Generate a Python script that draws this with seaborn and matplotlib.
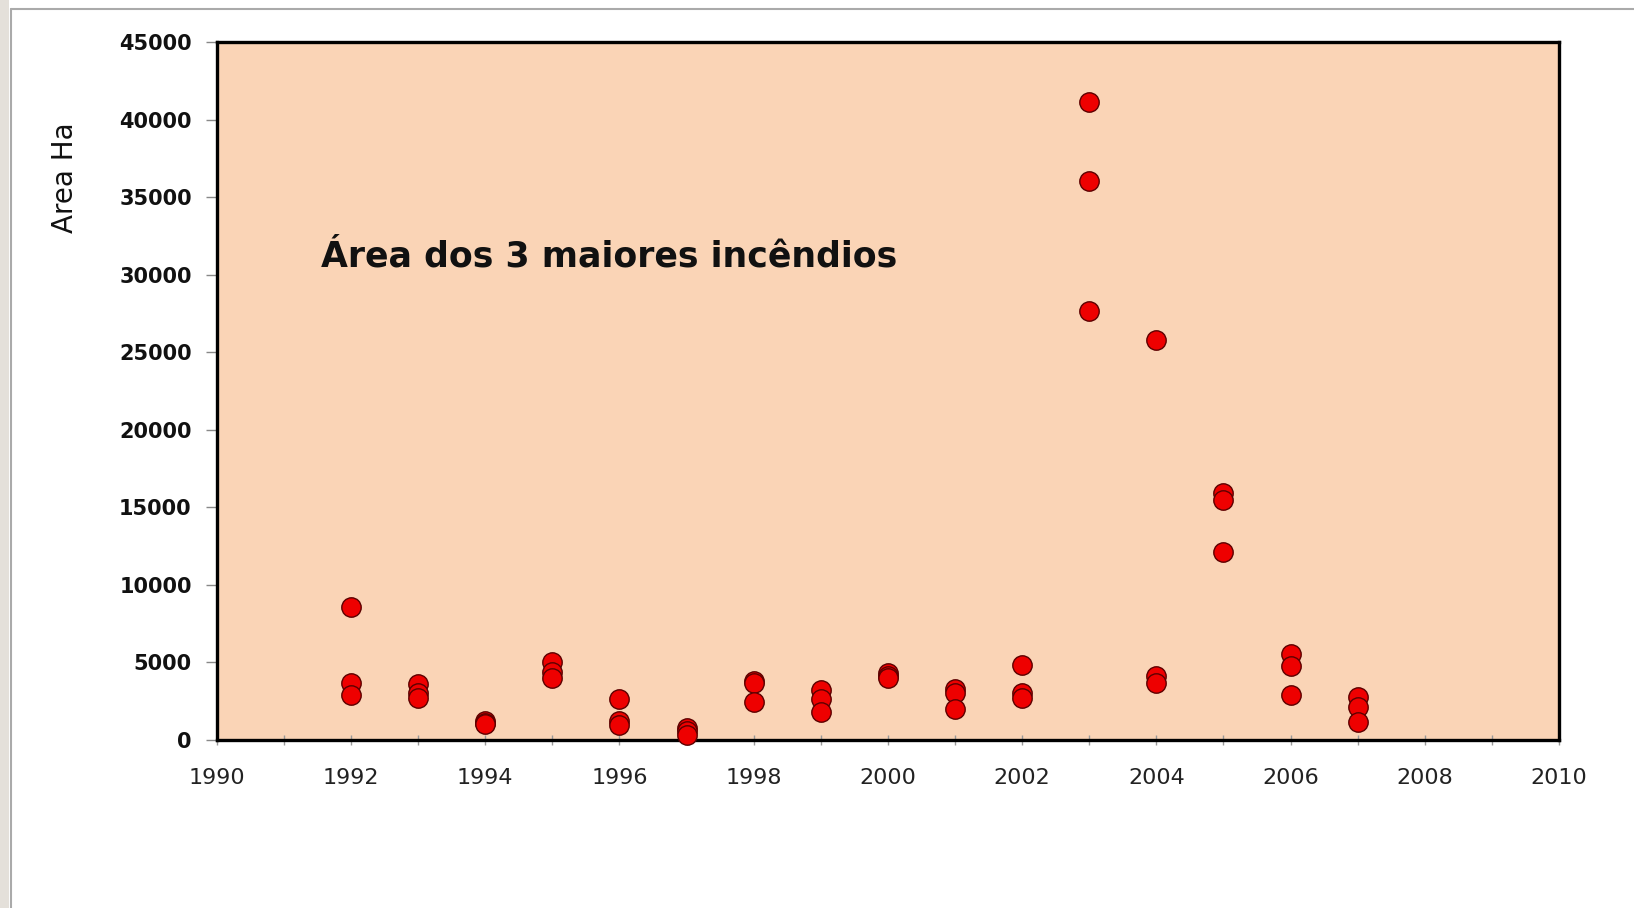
import matplotlib
matplotlib.use('Agg')
import matplotlib.pyplot as plt
import seaborn as sns
import pandas as pd
from matplotlib.ticker import MultipleLocator
from matplotlib.lines import Line2D
from matplotlib.patches import Rectangle

# ---- data ----
anos = [1992, 1993, 1994, 1995, 1996, 1997, 1998, 1999,
        2000, 2001, 2002, 2003, 2004, 2005, 2006, 2007]
maior_1 = [8600, 3600, 1250, 5000, 2650, 800, 3800, 3200,
           4300, 3300, 4850, 41100, 25800, 15900, 5550, 2800]
maior_2 = [3700, 3050, 1100, 4400, 1200, 600, 3700, 2650,
           4150, 3050, 3050, 36050, 4100, 15450, 4750, 2100]
maior_3 = [2900, 2700, 1000, 4000, 950, 350, 2450, 1800,
           4000, 2000, 2700, 27650, 3650, 12150, 2900, 1150]
x_ticks = [1990, 1992, 1994, 1996, 1998, 2000, 2002, 2004, 2006, 2008, 2010]
y_ticks = [0, 5000, 10000, 15000, 20000, 25000, 30000, 35000, 40000, 45000]
titulo = "Área dos 3 maiores incêndios"
rotulo_y = "Area Ha"

df = pd.DataFrame({
    "ano": anos * 3,
    "area": maior_1 + maior_2 + maior_3,
})

sns.set_theme(style="white")
plt.rcParams['font.family'] = ['DejaVu Sans']

W, H = 1634, 908
fig = plt.figure(figsize=(W / 100, H / 100), dpi=100)
fig.patch.set_facecolor('white')

# page decoration: left texture strip and thin gray border
fig.patches.append(Rectangle((0, 0), 9 / W, 1, transform=fig.transFigure,
                             facecolor='#E4E0DA', edgecolor='none', zorder=0))
fig.lines.append(Line2D([11 / W, 11 / W], [0, 1 - 9 / H], transform=fig.transFigure,
                        color='#AAAAAA', lw=1.5))
fig.lines.append(Line2D([11 / W, 1], [1 - 9 / H, 1 - 9 / H], transform=fig.transFigure,
                        color='#AAAAAA', lw=1.5))

left, right, top, bottom = 216.7 / W, 1559 / W, 1 - 42 / H, 1 - 740 / H
ax = fig.add_axes([left, bottom, right - left, top - bottom])
ax.set_facecolor('#FAD4B6')

sns.scatterplot(data=df, x="ano", y="area", ax=ax, s=195, color='#EE0000',
                edgecolor='#5C0000', linewidth=1, zorder=3, clip_on=False,
                legend=False)

ax.set_xlim(x_ticks[0], x_ticks[-1])
ax.set_ylim(y_ticks[0], y_ticks[-1])
ax.set_xticks(x_ticks)
ax.set_xticklabels([str(t) for t in x_ticks])
ax.set_yticks(y_ticks)
ax.set_yticklabels([str(t) for t in y_ticks], fontweight='bold')
ax.xaxis.set_minor_locator(MultipleLocator(1))

ax.tick_params(axis='y', direction='out', length=8, width=1, color='#888888',
               pad=10, labelsize=15, labelcolor='#111111', left=True)
ax.tick_params(axis='x', which='both', direction='inout', length=7, width=1,
               color='#999999', pad=17, labelsize=16, labelcolor='#222222', bottom=True)

for s in ax.spines.values():
    s.set_visible(True)
    s.set_color('black')
    s.set_linewidth(2.4)

ax.set_xlabel('')
ax.set_ylabel('')
fig.text(65 / W, 1 - 178 / H, rotulo_y, rotation=90, fontsize=20,
         ha='center', va='center', color='#111111')

ax.text(1991.55, 30500, titulo, fontsize=25, fontweight='bold',
        ha='left', va='baseline', color='#111111')

fig.savefig('out.png', dpi=100)
